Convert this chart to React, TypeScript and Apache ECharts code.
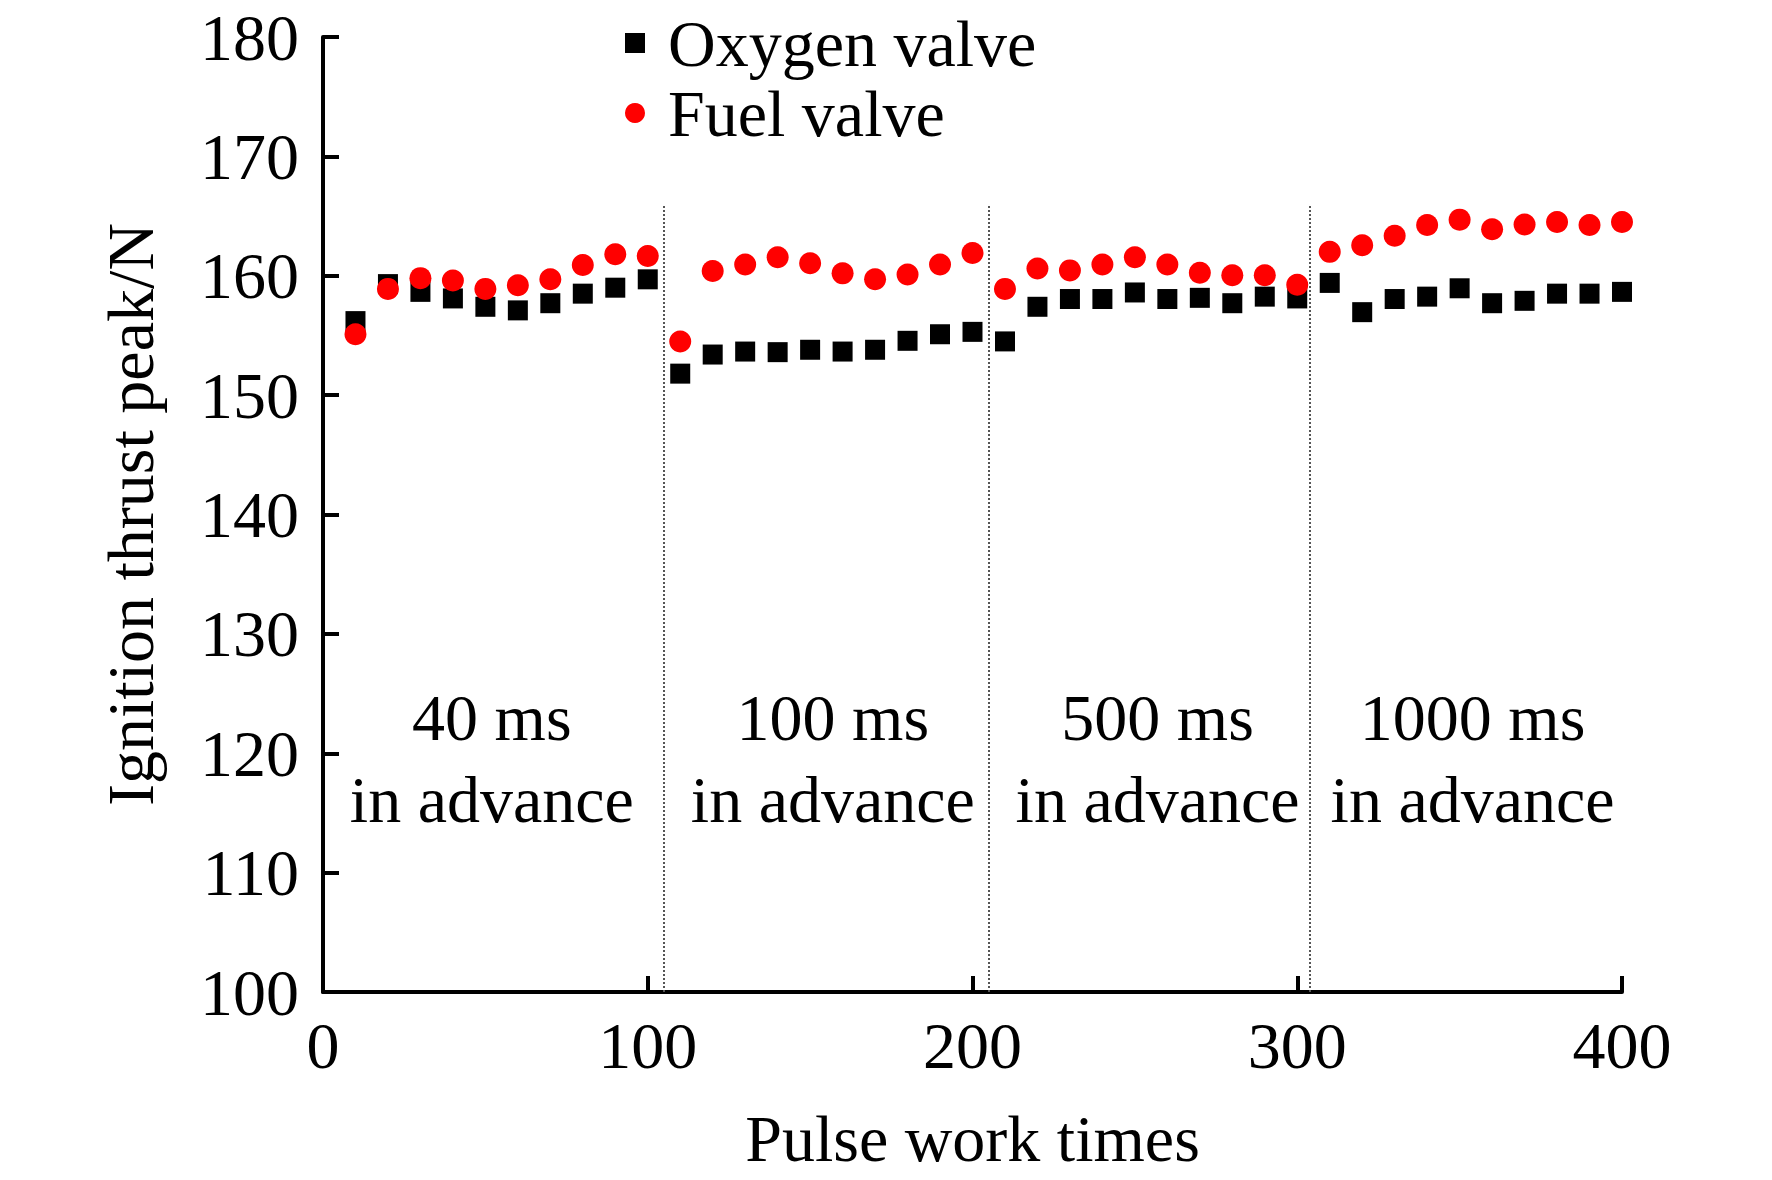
import React, { useEffect, useRef } from 'react';
import * as echarts from 'echarts';

// pulse work times (x) for each measured point
const pulseTimes = [
  10, 20, 30, 40, 50, 60, 70, 80, 90, 100,
  110, 120, 130, 140, 150, 160, 170, 180, 190, 200,
  210, 220, 230, 240, 250, 260, 270, 280, 290, 300,
  310, 320, 330, 340, 350, 360, 370, 380, 390, 400,
];

// ignition thrust peak, N
const oxygenValve = [
  156.2, 159.3, 158.65, 158.1, 157.4, 157.1, 157.7, 158.5, 159.0, 159.7,
  151.8, 153.4, 153.65, 153.6, 153.8, 153.65, 153.8, 154.55, 155.1, 155.3,
  154.5, 157.4, 158.05, 158.05, 158.6, 158.05, 158.15, 157.7, 158.25, 158.1,
  159.4, 156.95, 158.05, 158.25, 158.95, 157.7, 157.9, 158.5, 158.5, 158.65,
];

const fuelValve = [
  155.1, 158.9, 159.8, 159.6, 158.9, 159.2, 159.7, 160.9, 161.8, 161.65,
  154.5, 160.4, 160.95, 161.55, 161.05, 160.2, 159.7, 160.1, 160.95, 161.9,
  158.9, 160.6, 160.45, 160.95, 161.55, 160.95, 160.25, 160.05, 160.05, 159.25,
  162.0, 162.55, 163.35, 164.25, 164.7, 163.9, 164.3, 164.5, 164.25, 164.5,
];

// phase boundaries (dotted lines) and the label of each phase
const boundaries = [105, 205, 304];
const boundaryTop = 166;
const phaseLabels = ['40 ms\nin advance', '100 ms\nin advance', '500 ms\nin advance', '1000 ms\nin advance'];
const phaseCenters = [52, 157, 257, 354];
const phaseLabelY = 119.6;

const FONT = 'Liberation Serif';
const FS = 66;

const App: React.FC = () => {
  const chartRef = useRef<HTMLDivElement>(null);

  useEffect(() => {
    document.body.style.margin = '0';
    if (!chartRef.current) return;
    const chart = echarts.init(chartRef.current, undefined, { renderer: 'svg' });

    const toPoints = (ys: number[]) => pulseTimes.map((x, i) => [x, ys[i]]);

    chart.setOption({
      animation: false,
      backgroundColor: '#fff',
      textStyle: { fontFamily: FONT, color: '#000' },
      grid: { left: 323, right: 150, top: 37, bottom: 188 },
      legend: {
        orient: 'vertical',
        left: 620,
        top: 5,
        itemGap: 4,
        itemWidth: 20,
        itemHeight: 20,
        textStyle: { fontSize: FS, lineHeight: 66, fontFamily: FONT, color: '#000', padding: [0, 0, 0, 18] },
        data: [
          { name: 'Oxygen valve', icon: 'rect' },
          { name: 'Fuel valve', icon: 'circle' },
        ],
      },
      xAxis: {
        type: 'value',
        min: 0,
        max: 400,
        interval: 100,
        name: 'Pulse work times',
        nameLocation: 'middle',
        nameGap: 113,
        nameTextStyle: { fontSize: FS, fontFamily: FONT, color: '#000' },
        axisLine: { show: true, lineStyle: { color: '#000', width: 4 } },
        axisTick: { show: true, inside: true, length: 16, lineStyle: { color: '#000', width: 4 } },
        axisLabel: { fontSize: FS, fontFamily: FONT, color: '#000', margin: 20 },
        splitLine: { show: false },
      },
      yAxis: {
        type: 'value',
        min: 100,
        max: 180,
        interval: 10,
        name: 'Ignition thrust peak/N',
        nameLocation: 'middle',
        nameGap: 160,
        nameTextStyle: { fontSize: FS, fontFamily: FONT, color: '#000' },
        axisLine: { show: true, lineStyle: { color: '#000', width: 4 } },
        axisTick: { show: true, inside: true, length: 16, lineStyle: { color: '#000', width: 4 } },
        axisLabel: { fontSize: FS, fontFamily: FONT, color: '#000', margin: 24 },
        splitLine: { show: false },
      },
      series: [
        {
          name: 'Oxygen valve',
          type: 'scatter',
          symbol: 'rect',
          symbolSize: 20,
          itemStyle: { color: '#000', opacity: 1 },
          data: toPoints(oxygenValve),
          markLine: {
            silent: true,
            symbol: 'none',
            label: { show: false },
            lineStyle: { color: '#555', type: 'dotted', width: 2 },
            data: boundaries.map((b) => [{ coord: [b, 100] }, { coord: [b, boundaryTop] }]),
          },
        },
        {
          name: 'Fuel valve',
          type: 'scatter',
          symbol: 'circle',
          symbolSize: 22,
          itemStyle: { color: '#ff0000', opacity: 1 },
          data: toPoints(fuelValve),
          markPoint: {
            silent: true,
            symbol: 'circle',
            symbolSize: 1,
            itemStyle: { color: 'rgba(0,0,0,0)' },
            label: {
              show: true,
              position: 'inside',
              fontSize: FS,
              lineHeight: 82,
              fontFamily: FONT,
              color: '#000',
            },
            data: phaseLabels.map((text, i) => ({
              coord: [phaseCenters[i], phaseLabelY],
              label: { formatter: text },
            })),
          },
        },
      ],
    });

    return () => {
      chart.dispose();
    };
  }, []);

  return <div ref={chartRef} style={{ width: '1772px', height: '1180px' }}></div>;
};

export default App;
